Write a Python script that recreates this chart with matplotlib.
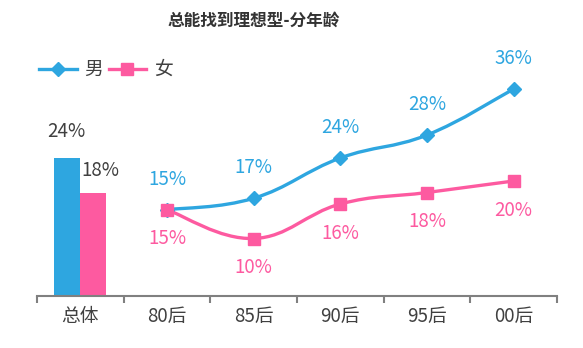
import matplotlib
matplotlib.use("Agg")
import matplotlib.pyplot as plt
from matplotlib.path import Path
from matplotlib.patches import PathPatch
from matplotlib.lines import Line2D
import numpy as np

plt.rcParams['font.family'] = ['Noto Sans CJK SC', 'DejaVu Sans']

BLUE = '#2ea6e0'
PINK = '#fd5aa0'
DARK = '#404040'

categories = ['总体', '80后', '85后', '90后', '95后', '00后']
overall_male = 24
overall_female = 18
male = [15, 17, 24, 28, 36]
female = [15, 10, 16, 18, 20]


def smooth_path(xs, ys, t=0.4):
    # bezier through every point, control points from neighbouring points
    pts = np.column_stack([xs, ys]).astype(float)
    n = len(pts)
    verts = [pts[0]]
    codes = [Path.MOVETO]
    for i in range(n - 1):
        p0 = pts[max(i - 1, 0)]
        p1 = pts[i]
        p2 = pts[i + 1]
        p3 = pts[min(i + 2, n - 1)]
        c1 = p1 + (p2 - p0) * t / 2
        c2 = p2 - (p3 - p1) * t / 2
        verts += [c1, c2, p2]
        codes += [Path.CURVE4] * 3
    return Path(verts, codes)


fig = plt.figure(figsize=(5.83, 3.48), dpi=100)
ax = fig.add_axes([37 / 583, 52 / 348, 520 / 583, 230 / 348])
ax.set_xlim(-0.5, 5.5)
ax.set_ylim(0, 40)

# overall bars
ax.bar(-0.15, overall_male, width=0.3, color=BLUE)
ax.bar(0.15, overall_female, width=0.3, color=PINK)
ax.annotate(f'{overall_male}%', (-0.16, overall_male), xytext=(0, 19),
            textcoords='offset points', ha='center', va='center',
            fontsize=13.5, color=DARK)
ax.annotate(f'{overall_female}%', (0.23, overall_female), xytext=(0, 16),
            textcoords='offset points', ha='center', va='center',
            fontsize=13.5, color=DARK)

# age groups
xs = np.arange(1, len(categories))
for vals, color, marker, ms, dy in [(male, BLUE, 'D', 7.5, 22),
                                    (female, PINK, 's', 8.5, -21)]:
    ax.add_patch(PathPatch(smooth_path(xs, vals), fill=False,
                           edgecolor=color, lw=2.4, capstyle='round'))
    ax.plot(xs, vals, linestyle='none', marker=marker, markersize=ms,
            color=color)
    for x, v in zip(xs, vals):
        ax.annotate(f'{v}%', (x, v), xytext=(0, dy),
                    textcoords='offset points', ha='center', va='center',
                    fontsize=13.5, color=color)

for s in ['top', 'right', 'left']:
    ax.spines[s].set_visible(False)
ax.spines['bottom'].set_color('#808080')
ax.spines['bottom'].set_linewidth(1.5)
ax.set_yticks([])
ax.set_xticks(range(len(categories)))
ax.set_xticklabels(categories, fontsize=13.5, color=DARK)
ax.set_xticks(np.arange(-0.5, len(categories), 1), minor=True)
ax.tick_params(axis='x', which='major', length=0, pad=7)
ax.tick_params(axis='x', which='minor', length=5, width=1.5, color='#808080')

fig.text(254 / 583, 0.94, '总能找到理想型-分年龄', ha='center', va='center',
         fontsize=12, fontweight='bold', color='#333333')

handles = [Line2D([], [], color=BLUE, lw=2.4, marker='D', markersize=7),
           Line2D([], [], color=PINK, lw=2.4, marker='s', markersize=8)]
fig.legend(handles, ['男', '女'], loc='center left', bbox_to_anchor=(0.045, 0.8),
           ncol=2, frameon=False, fontsize=13.5, handlelength=2.0,
           handletextpad=0.4, columnspacing=0.3, labelcolor=DARK,
           borderpad=0.2)

fig.savefig('out.png', dpi=100)
